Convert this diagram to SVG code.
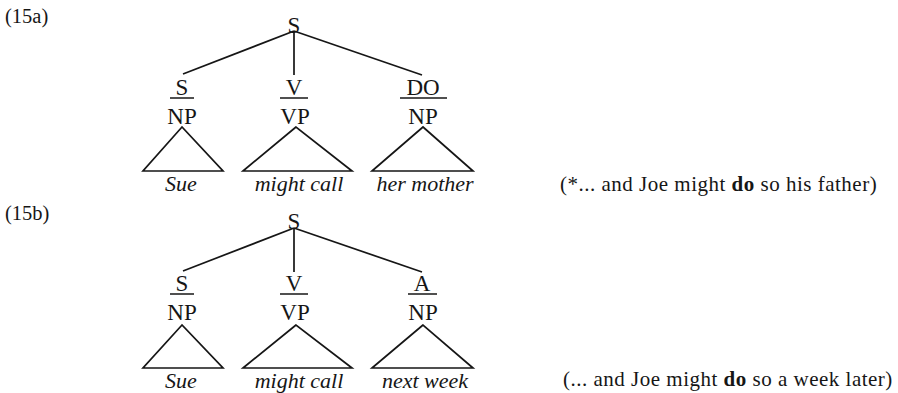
<svg xmlns="http://www.w3.org/2000/svg" width="898" height="393" viewBox="0 0 898 393">
<style>
text{font-family:"Liberation Serif","Times New Roman",serif;fill:#161616}
.lab{font-size:23px;text-anchor:middle}
.leaf{font-size:22px;font-style:italic;text-anchor:middle}
.ex{font-size:20.5px}
.gloss{font-size:21px;letter-spacing:0.5px}
.b{font-weight:bold}
line,polygon{stroke:#161616;stroke-width:1.7;fill:none}
.bar{stroke-width:1.5}
</style>
<rect width="898" height="393" fill="#fff"/>

<text class="ex" x="5" y="23">(15a)</text>
<text class="ex" x="5" y="220">(15b)</text>

<g id="connectors">
  <line x1="294" y1="31" x2="183" y2="74"/>
  <line x1="294" y1="31" x2="294" y2="75"/>
  <line x1="294" y1="31" x2="422" y2="75"/>
  <line x1="294" y1="228" x2="183" y2="271"/>
  <line x1="294" y1="228" x2="294" y2="272"/>
  <line x1="294" y1="228" x2="422" y2="272"/>
</g>

<g id="a_S"><text class="lab" x="294" y="33">S</text></g>
<g id="a_subj">
  <text class="lab" x="182" y="95">S</text>
  <line class="bar" x1="170" y1="98" x2="194" y2="98"/>
  <text class="lab" x="182" y="124">NP</text>
  <polygon points="182,127 143,171 223,171"/>
  <text class="leaf" x="181" y="191">Sue</text>
</g>
<g id="a_verb">
  <text class="lab" x="294" y="95">V</text>
  <line class="bar" x1="280" y1="98" x2="308" y2="98"/>
  <text class="lab" x="295" y="124">VP</text>
  <polygon points="296,127 243,171 352,171"/>
  <text class="leaf" x="299" y="191">might call</text>
</g>
<g id="a_do">
  <text class="lab" x="423" y="95">DO</text>
  <line class="bar" x1="400" y1="98" x2="447" y2="98"/>
  <text class="lab" x="423" y="124">NP</text>
  <polygon points="423,127 372,171 473,171"/>
  <text class="leaf" x="425" y="191">her mother</text>
</g>
<g id="a_gloss">
  <text class="gloss" x="560" y="191">(*... and Joe might <tspan class="b">do</tspan> so his father)</text>
</g>

<g id="b_S"><text class="lab" x="294" y="229">S</text></g>
<g id="b_subj">
  <text class="lab" x="182" y="291">S</text>
  <line class="bar" x1="170" y1="294" x2="194" y2="294"/>
  <text class="lab" x="182" y="320">NP</text>
  <polygon points="182,325 143,368 223,368"/>
  <text class="leaf" x="181" y="388">Sue</text>
</g>
<g id="b_verb">
  <text class="lab" x="294" y="291">V</text>
  <line class="bar" x1="280" y1="294" x2="308" y2="294"/>
  <text class="lab" x="295" y="320">VP</text>
  <polygon points="296,325 243,368 352,368"/>
  <text class="leaf" x="299" y="388">might call</text>
</g>
<g id="b_adv">
  <text class="lab" x="422" y="291">A</text>
  <line class="bar" x1="408" y1="294" x2="437" y2="294"/>
  <text class="lab" x="423" y="320">NP</text>
  <polygon points="423,325 372,368 473,368"/>
  <text class="leaf" x="425" y="388">next week</text>
</g>
<g id="b_gloss">
  <text class="gloss" x="563" y="386">(... and Joe might <tspan class="b">do</tspan> so a week later)</text>
</g>
</svg>
